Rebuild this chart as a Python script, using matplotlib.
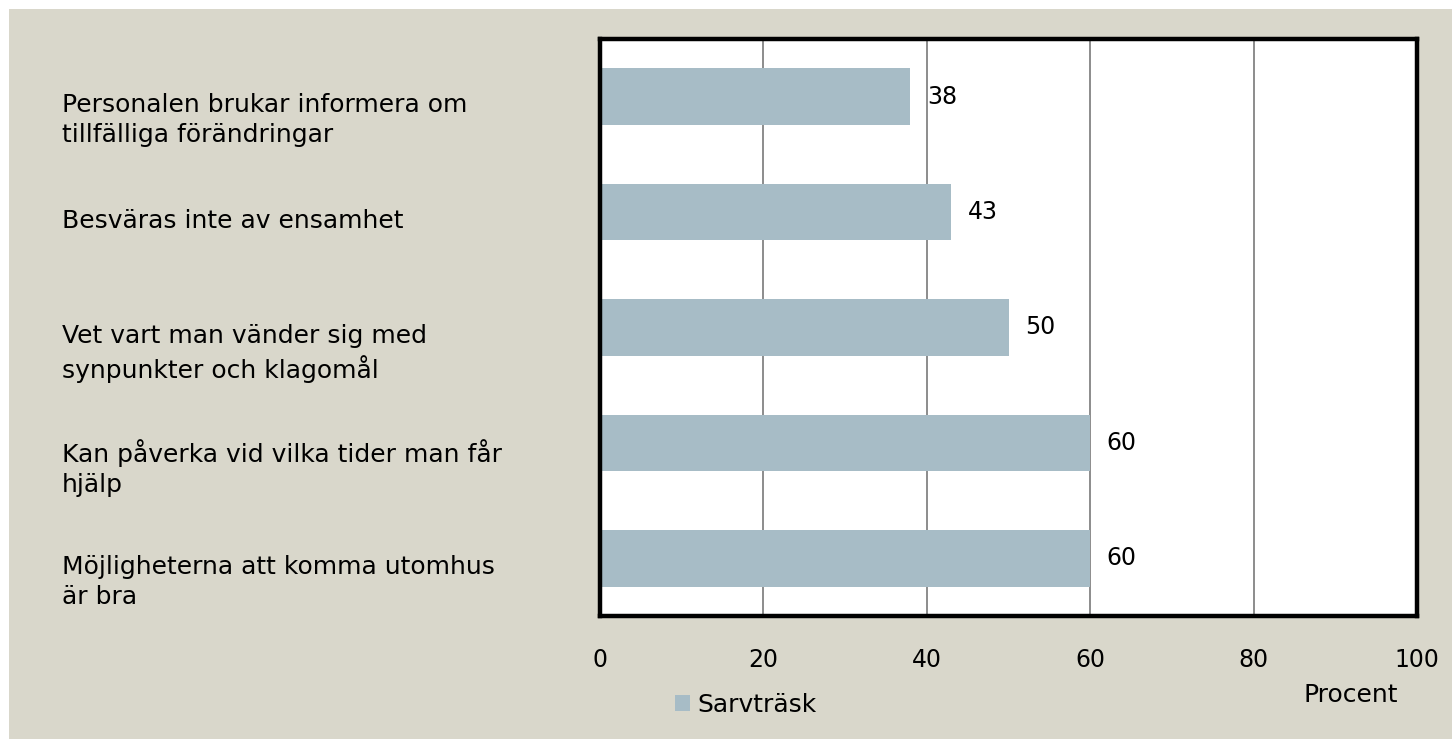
import matplotlib.pyplot as plt
from matplotlib.patches import Rectangle
from matplotlib.transforms import blended_transform_factory

categories = [
    "Personalen brukar informera om\ntillfälliga förändringar",
    "Besväras inte av ensamhet",
    "Vet vart man vänder sig med\nsynpunkter och klagomål",
    "Kan påverka vid vilka tider man får\nhjälp",
    "Möjligheterna att komma utomhus\när bra",
]
values = [38, 43, 50, 60, 60]
series_name = "Sarvträsk"
xticks = [0, 20, 40, 60, 80, 100]

bg = "#D9D7CB"
bar_color = "#A7BCC6"
fs = 17
fs_cat = 18

plt.rcParams["font.family"] = ["DejaVu Sans"]

fig = plt.figure(figsize=(14.52, 7.39), dpi=100, facecolor="white")
fig.patches.append(Rectangle((9 / 1452, 0), 1, 1 - 9 / 739, transform=fig.transFigure,
                             facecolor=bg, edgecolor="none", zorder=-10))

ax = fig.add_axes([600 / 1452, 1 - 616 / 739, 817 / 1452, 577 / 739])
ax.set_facecolor("white")

ypos = list(range(len(categories)))
bars = ax.barh(ypos, values, height=0.49, color=bar_color, zorder=2, label=series_name)
ax.bar_label(bars, padding=12, fontsize=fs, color="black")

ax.set_xlim(0, 100)
ax.set_ylim(len(categories) - 0.5, -0.5)
ax.set_xticks(xticks)
ax.set_xticklabels([str(t) for t in xticks], fontsize=fs)
ax.tick_params(axis="x", length=0, pad=23)
ax.set_yticks([])
ax.grid(axis="x", color="#8C8C8C", linewidth=1.4, zorder=1)
for s in ax.spines.values():
    s.set_linewidth(3.2)
    s.set_color("black")

tr = blended_transform_factory(fig.transFigure, ax.transData)
for y, lab in zip(ypos, categories):
    ax.text(62 / 1452, y - 0.03, lab, transform=tr, ha="left", va="top",
            fontsize=fs_cat, linespacing=1.3, clip_on=False)

fig.text(1303 / 1452, 1 - 695 / 739, "Procent", ha="left", va="center", fontsize=fs_cat)

fig.legend(handles=[bars], labels=[series_name], loc="center left",
           bbox_to_anchor=(665 / 1452, 1 - 705 / 739), frameon=False, fontsize=fs_cat,
           handlelength=0.6, handleheight=0.6, handletextpad=0.3, borderaxespad=0)

fig.savefig("out.png", dpi=100, facecolor=fig.get_facecolor())
